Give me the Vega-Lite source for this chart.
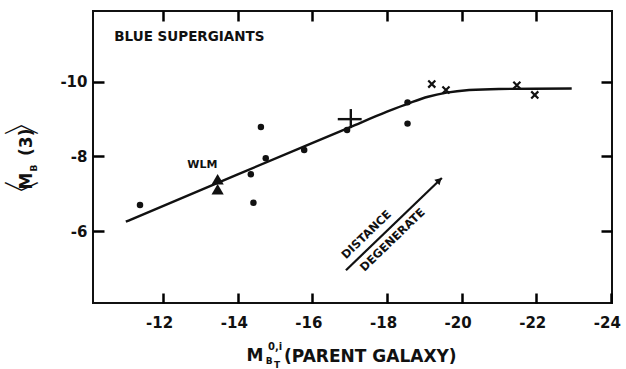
{
  "$schema": "https://vega.github.io/schema/vega-lite/v6.json",
  "width": 519,
  "height": 292,
  "autosize": {"type": "none"},
  "padding": {"left": 93, "top": 11, "right": 14, "bottom": 66},
  "background": "white",
  "config": {
    "view": {"stroke": "#111", "strokeWidth": 2},
    "axis": {
      "grid": false,
      "domain": false,
      "labelFont": "DejaVu Sans",
      "labelFontWeight": "bold",
      "labelFontSize": 15,
      "labelColor": "#111",
      "title": null
    },
    "text": {"font": "DejaVu Sans", "fontWeight": "bold", "color": "#111"}
  },
  "datasets": {
    "curve": [
      {"x": -11.0, "y": -6.25},
      {"x": -14.0, "y": -7.52},
      {"x": -17.0, "y": -8.78},
      {"x": -18.0, "y": -9.2},
      {"x": -18.6, "y": -9.43},
      {"x": -19.1, "y": -9.6},
      {"x": -19.6, "y": -9.71},
      {"x": -20.2, "y": -9.78},
      {"x": -21.0, "y": -9.81},
      {"x": -22.95, "y": -9.82}
    ],
    "galaxies": [
      {"x": -11.38, "y": -6.7},
      {"x": -14.35, "y": -7.52},
      {"x": -14.42, "y": -6.76},
      {"x": -14.62, "y": -8.79},
      {"x": -14.75, "y": -7.95},
      {"x": -15.78, "y": -8.17},
      {"x": -16.93, "y": -8.71},
      {"x": -18.55, "y": -9.45},
      {"x": -18.55, "y": -8.88}
    ],
    "wlm": [
      {"x": -13.46, "y": -7.39},
      {"x": -13.46, "y": -7.12}
    ],
    "crosses": [
      {"x": -19.2, "y": -9.94},
      {"x": -19.58, "y": -9.78},
      {"x": -21.48, "y": -9.91},
      {"x": -21.96, "y": -9.65}
    ],
    "errorCross": [
      {"x": -17.03, "xlo": -16.68, "xhi": -17.32, "y": -9.0, "ylo": -8.76, "yhi": -9.27}
    ],
    "arrow": [
      {"x": -16.9, "y": -4.95, "x2": -19.47, "y2": -7.42}
    ],
    "arrowHead": [
      {"x": -19.4, "y": -7.36}
    ],
    "notes": [
      {"x": -10.69, "y": -11.2, "text": "BLUE SUPERGIANTS"}
    ],
    "wlmLabel": [
      {"x": -13.05, "y": -7.77, "text": "WLM"}
    ],
    "diag": [
      {"x": -17.46, "y": -5.89, "text": "DISTANCE"},
      {"x": -18.16, "y": -5.75, "text": "DEGENERATE"}
    ],
    "xTitleMain": [
      {"x": -14.46, "y": -2.65, "text": "M"}
    ],
    "xTitleSup": [
      {"x": -15.0, "y": -2.89, "text": "0,i"}
    ],
    "xTitleSub": [
      {"x": -14.84, "y": -2.51, "text": "B"},
      {"x": -15.05, "y": -2.4, "text": "T"}
    ],
    "xTitleRest": [
      {"x": -15.24, "y": -2.62, "text": "(PARENT GALAXY)"}
    ],
    "yTitleBrackets": [
      {"x": -8.26, "y": -6.93, "text": "〈"},
      {"x": -8.26, "y": -8.98, "text": "〉"}
    ],
    "yTitleMain": [
      {"x": -8.36, "y": -7.34, "text": "M"},
      {"x": -8.36, "y": -8.38, "text": "(3)"}
    ],
    "yTitleSub": [
      {"x": -8.55, "y": -7.69, "text": "B"}
    ]
  },
  "encoding": {
    "x": {"field": "x", "type": "quantitative", "scale": {"domain": [-10.12, -24.03], "nice": false, "zero": false}, "axis": null},
    "y": {"field": "y", "type": "quantitative", "scale": {"domain": [-4.07, -11.9], "nice": false, "zero": false}, "axis": null}
  },
  "layer": [
    {
      "data": {"name": "curve"},
      "mark": {"type": "line", "color": "#111", "strokeWidth": 2.4, "interpolate": "monotone"},
      "encoding": {
        "x": {"field": "x", "type": "quantitative", "scale": {"domain": [-10.12, -24.03], "nice": false, "zero": false},
          "axis": {"orient": "bottom", "values": [-12, -14, -16, -18, -20, -22, -24], "ticks": true, "tickSize": -10, "tickWidth": 2.5, "tickColor": "black", "tickOpacity": 1, "labelExpr": "'-' + abs(datum.value)", "labelPadding": 22, "labelOffset": -4}},
        "y": {"field": "y", "type": "quantitative", "scale": {"domain": [-4.07, -11.9], "nice": false, "zero": false},
          "axis": {"orient": "left", "values": [-6, -8, -10], "ticks": false, "labelExpr": "'-' + abs(datum.value)", "labelPadding": 6}}
      }
    },
    {
      "data": {"name": "galaxies"},
      "mark": {"type": "point", "shape": "circle", "filled": true, "color": "#111", "size": 42, "opacity": 1},
      "encoding": {
        "x": {"field": "x", "type": "quantitative", "scale": {"domain": [-10.12, -24.03], "nice": false, "zero": false},
          "axis": {"orient": "top", "values": [-12, -14, -16, -18, -20, -22], "labels": false, "ticks": true, "tickSize": -10, "tickWidth": 2.5, "tickColor": "black", "tickOpacity": 1}},
        "y": {"field": "y", "type": "quantitative", "scale": {"domain": [-4.07, -11.9], "nice": false, "zero": false},
          "axis": {"orient": "right", "values": [-6, -8, -10], "labels": false, "ticks": true, "tickSize": -11, "tickWidth": 2.5, "tickColor": "black", "tickOpacity": 1}}
      }
    },
    {
      "data": {"name": "wlm"},
      "mark": {"type": "point", "shape": "triangle-up", "filled": true, "color": "#111", "size": 150, "opacity": 1},
      "encoding": {
        "y": {"field": "y", "type": "quantitative", "scale": {"domain": [-4.07, -11.9], "nice": false, "zero": false},
          "axis": {"orient": "left", "values": [-6, -8, -10], "labels": false, "ticks": true, "tickSize": -11, "tickWidth": 2.5, "tickColor": "black", "tickOpacity": 1}}
      }
    },
    {
      "data": {"name": "crosses"},
      "mark": {"type": "point", "shape": "M-1,-1L1,1M-1,1L1,-1", "filled": false, "color": "#111", "strokeWidth": 2.2, "size": 50, "opacity": 1}
    },
    {
      "data": {"name": "errorCross"},
      "mark": {"type": "rule", "color": "#111", "strokeWidth": 2.4},
      "encoding": {
        "x": {"field": "xlo", "type": "quantitative"},
        "x2": {"field": "xhi"},
        "y": {"field": "y", "type": "quantitative"}
      }
    },
    {
      "data": {"name": "errorCross"},
      "mark": {"type": "rule", "color": "#111", "strokeWidth": 2.4},
      "encoding": {
        "x": {"field": "x", "type": "quantitative"},
        "y": {"field": "ylo", "type": "quantitative"},
        "y2": {"field": "yhi"}
      }
    },
    {
      "data": {"name": "arrow"},
      "mark": {"type": "rule", "color": "#111", "strokeWidth": 2.2},
      "encoding": {
        "x": {"field": "x", "type": "quantitative"},
        "y": {"field": "y", "type": "quantitative"},
        "x2": {"field": "x2"},
        "y2": {"field": "y2"}
      }
    },
    {
      "data": {"name": "arrowHead"},
      "mark": {"type": "point", "shape": "triangle-up", "filled": true, "color": "#111", "size": 55, "angle": 46, "opacity": 1}
    },
    {
      "data": {"name": "notes"},
      "mark": {"type": "text", "align": "left", "baseline": "middle", "fontSize": 13.5},
      "encoding": {"text": {"field": "text"}}
    },
    {
      "data": {"name": "wlmLabel"},
      "mark": {"type": "text", "align": "center", "baseline": "middle", "fontSize": 11},
      "encoding": {"text": {"field": "text"}}
    },
    {
      "data": {"name": "diag"},
      "mark": {"type": "text", "align": "center", "baseline": "middle", "fontSize": 11.5, "angle": -44},
      "encoding": {"text": {"field": "text"}}
    },
    {
      "data": {"name": "xTitleMain"},
      "mark": {"type": "text", "align": "center", "baseline": "middle", "fontSize": 17},
      "encoding": {"text": {"field": "text"}}
    },
    {
      "data": {"name": "xTitleSup"},
      "mark": {"type": "text", "align": "center", "baseline": "middle", "fontSize": 10},
      "encoding": {"text": {"field": "text"}}
    },
    {
      "data": {"name": "xTitleSub"},
      "mark": {"type": "text", "align": "center", "baseline": "middle", "fontSize": 9},
      "encoding": {"text": {"field": "text"}}
    },
    {
      "data": {"name": "xTitleRest"},
      "mark": {"type": "text", "align": "left", "baseline": "middle", "fontSize": 17},
      "encoding": {"text": {"field": "text"}}
    },
    {
      "data": {"name": "yTitleBrackets"},
      "mark": {"type": "text", "align": "center", "baseline": "middle", "fontSize": 38, "fontWeight": "normal", "angle": -90},
      "encoding": {"text": {"field": "text"}}
    },
    {
      "data": {"name": "yTitleMain"},
      "mark": {"type": "text", "align": "center", "baseline": "middle", "fontSize": 17, "angle": -90},
      "encoding": {"text": {"field": "text"}}
    },
    {
      "data": {"name": "yTitleSub"},
      "mark": {"type": "text", "align": "center", "baseline": "middle", "fontSize": 9, "angle": -90},
      "encoding": {"text": {"field": "text"}}
    }
  ],
  "resolve": {"axis": {"x": "independent", "y": "independent"}}
}
